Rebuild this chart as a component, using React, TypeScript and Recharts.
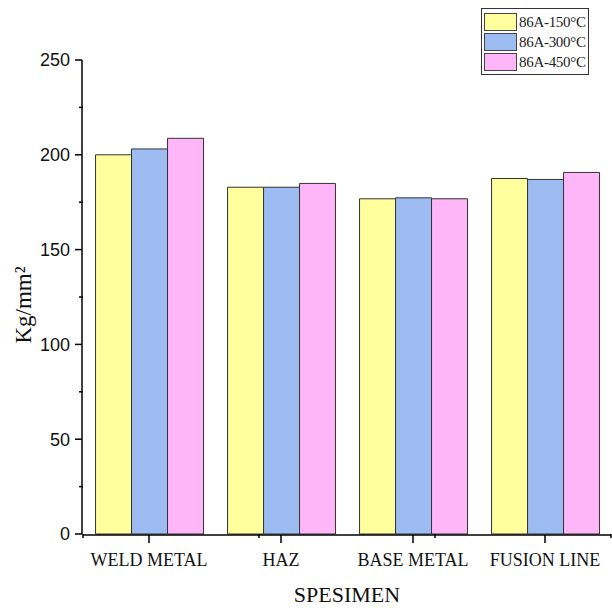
import React from 'react';
import { BarChart, Bar, XAxis, YAxis, Legend, Label } from 'recharts';

const categories = ['WELD METAL', 'HAZ', 'BASE METAL', 'FUSION LINE'];
const series150 = [200.0, 182.9, 176.8, 187.5];
const series300 = [203.1, 182.9, 177.3, 187.0];
const series450 = [208.7, 184.9, 176.8, 190.7];
const seriesNames = ['86A-150°C', '86A-300°C', '86A-450°C'];
const seriesColors = ['#FFFF9E', '#9DBCF2', '#FFB6F9'];
const yTicks = [0, 50, 100, 150, 200, 250];
const yMinorTicks = [25, 75, 125, 175, 225];
const xMinorTicks = [0, 1, 2, 3, 4];

const data = categories.map((name, i) => ({
  name,
  s150: series150[i],
  s300: series300[i],
  s450: series450[i],
}));

const serif = '"Liberation Serif", "Times New Roman", serif';
const sans = '"Liberation Sans", Arial, sans-serif';

const LegendBox = () => (
  <div
    style={{
      border: '1px solid #333',
      background: '#fff',
      padding: '3px 2px 2px 2px',
      fontFamily: serif,
      fontSize: 15,
      color: '#222',
      width: 102,
      whiteSpace: 'nowrap',
      boxSizing: 'content-box',
    }}
  >
    {seriesNames.map((n, i) => (
      <div key={n} style={{ display: 'flex', alignItems: 'center', height: 20 }}>
        <div
          style={{
            width: 31,
            height: 16,
            flex: 'none',
            background: seriesColors[i],
            border: '1px solid #444',
            marginRight: 2,
          }}
        />
        <span style={{ letterSpacing: -0.3 }}>{n}</span>
      </div>
    ))}
  </div>
);

const noLabel = () => <g />;

export default function App() {
  return (
    <div style={{ position: 'absolute', left: 0, top: 0, background: '#fff' }}>
      <BarChart
        width={612}
        height={608}
        data={data}
        margin={{ top: 60, right: 1, bottom: 0, left: 0 }}
        barCategoryGap="9.5%"
        barGap={0}
      >
        {/* minor ticks only; ids sort before "main" so they sit on the plot edge */}
        <XAxis
          xAxisId="edge"
          type="number"
          domain={[0, 4]}
          allowDataOverflow
          ticks={xMinorTicks}
          interval={0}
          tick={noLabel}
          axisLine={false}
          tickSize={4}
          tickLine={{ stroke: '#000', strokeWidth: 1.5 }}
          height={1}
        />
        <YAxis
          yAxisId="edge"
          type="number"
          domain={[0, 250]}
          allowDataOverflow
          ticks={yMinorTicks}
          interval={0}
          tick={noLabel}
          axisLine={false}
          tickSize={4}
          tickLine={{ stroke: '#000', strokeWidth: 1.5 }}
          width={1}
        />
        <XAxis
          xAxisId="main"
          dataKey="name"
          height={73}
          interval={0}
          tickSize={8}
          tickMargin={10}
          axisLine={{ stroke: '#000', strokeWidth: 1.5 }}
          tickLine={{ stroke: '#000', strokeWidth: 1.5 }}
          tick={{ fill: '#111', fontFamily: serif, fontSize: 18 }}
        >
          <Label
            content={({ viewBox }: any) => (
              <text
                x={viewBox.x + viewBox.width / 2}
                y={viewBox.y + 67}
                textAnchor="middle"
                fontFamily={serif}
                fontSize={22}
                fill="#111"
              >
                SPESIMEN
              </text>
            )}
          />
        </XAxis>
        <YAxis
          yAxisId="main"
          width={82}
          domain={[0, 250]}
          ticks={yTicks}
          interval={0}
          tickSize={7}
          tickMargin={5}
          axisLine={{ stroke: '#000', strokeWidth: 1.5 }}
          tickLine={{ stroke: '#000', strokeWidth: 1.5 }}
          tick={{ fill: '#111', fontFamily: sans, fontSize: 18 }}
        >
          <Label
            content={({ viewBox }: any) => {
              const cx = 31;
              const cy = viewBox.y + viewBox.height / 2 + 8;
              return (
                <text
                  x={cx}
                  y={cy}
                  transform={`rotate(-90 ${cx} ${cy})`}
                  textAnchor="middle"
                  fontFamily={serif}
                  fontSize={23}
                  fill="#111"
                >
                  Kg/mm²
                </text>
              );
            }}
          />
        </YAxis>
        <Legend
          layout="vertical"
          align="center"
          verticalAlign="middle"
          wrapperStyle={{ top: 8, left: 481, width: 'auto' }}
          content={() => <LegendBox />}
        />
        <Bar xAxisId="main" yAxisId="main" dataKey="s150" name={seriesNames[0]} fill={seriesColors[0]} stroke="#333" strokeWidth={1} isAnimationActive={false} />
        <Bar xAxisId="main" yAxisId="main" dataKey="s300" name={seriesNames[1]} fill={seriesColors[1]} stroke="#333" strokeWidth={1} isAnimationActive={false} />
        <Bar xAxisId="main" yAxisId="main" dataKey="s450" name={seriesNames[2]} fill={seriesColors[2]} stroke="#333" strokeWidth={1} isAnimationActive={false} />
      </BarChart>
    </div>
  );
}
